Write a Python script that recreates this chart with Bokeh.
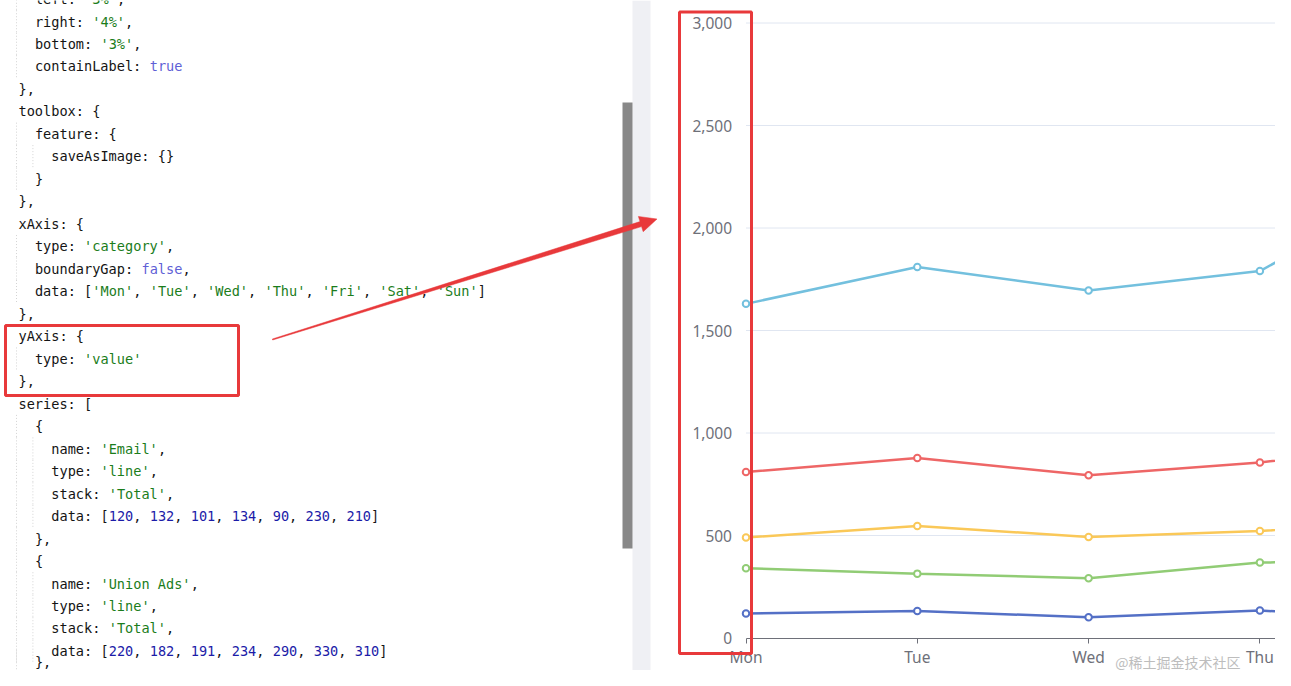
import re
import numpy as np
from bokeh.plotting import figure
from bokeh.models import Range1d, LinearAxis, FixedTicker, NumeralTickFormatter
from bokeh.core.properties import value
from bokeh.embed import file_html
from bokeh.resources import INLINE

# ---------------- data ----------------
days = ['Mon', 'Tue', 'Wed', 'Thu', 'Fri', 'Sat', 'Sun']
email = [120, 132, 101, 134, 90, 230, 210]
union_ads = [220, 182, 191, 234, 290, 330, 310]
video_ads = [150, 232, 201, 154, 190, 330, 410]
direct = [320, 332, 301, 334, 390, 330, 320]
search_engine = [820, 932, 901, 934, 1290, 1330, 1320]
series_names = ['Email', 'Union Ads', 'Video Ads', 'Direct', 'Search Engine']
series_colors = ['#5470c6', '#91cc75', '#fac858', '#ee6666', '#73c0de']
y_ticks = [0, 500, 1000, 1500, 2000, 2500, 3000]

code_lines = [
    "  left: '3%',",
    "  right: '4%',",
    "  bottom: '3%',",
    "  containLabel: true",
    "},",
    "toolbox: {",
    "  feature: {",
    "    saveAsImage: {}",
    "  }",
    "},",
    "xAxis: {",
    "  type: 'category',",
    "  boundaryGap: false,",
    "  data: ['Mon', 'Tue', 'Wed', 'Thu', 'Fri', 'Sat', 'Sun']",
    "},",
    "yAxis: {",
    "  type: 'value'",
    "},",
    "series: [",
    "  {",
    "    name: 'Email',",
    "    type: 'line',",
    "    stack: 'Total',",
    "    data: [120, 132, 101, 134, 90, 230, 210]",
    "  },",
    "  {",
    "    name: 'Union Ads',",
    "    type: 'line',",
    "    stack: 'Total',",
    "    data: [220, 182, 191, 234, 290, 330, 310]",
    "  },",
]
watermark = "@稀土掘金技术社区"

# ---------------- layout (reference pixel space, 1:1) ----------------
W, H = 1275, 670
X_MON, DX = 745.5, 171.3        # pixel of first category, pixels per category
Y_ZERO, KY = 637.5, 0.205       # pixel of value 0, pixels per unit
RED = "#e8393b"

p = figure(width=W, height=H,
           x_range=Range1d(0, W), y_range=Range1d(H, 0),
           x_axis_type=None, y_axis_type=None,
           toolbar_location=None, output_backend="svg",
           min_border=0, outline_line_color=None,
           background_fill_color="white", border_fill_color="white")
p.extra_x_ranges = {"days": Range1d((0 - X_MON) / DX, (W - X_MON) / DX)}
p.extra_y_ranges = {"vals": Range1d((Y_ZERO - H) / KY, Y_ZERO / KY)}

# editor chrome
p.quad(left=[632], right=[650], top=[0], bottom=[H], fill_color="#eff0f4", line_color=None)
p.quad(left=[622], right=[632], top=[102], bottom=[548], fill_color="#888888", line_color=None)

# code text
CH = 8.2
X_BASE = 18
ROWH = 22.48
ROW0 = 21 - ROWH
colors = {"plain": "#141414", "str": "#1b7d1b", "num": "#1c1ca8", "kw": "#5f5fd6"}
tx, ty, tt, tc = [], [], [], []
gx0, gy0, gy1 = [], [], []
n_rows = len(code_lines)
for i, line in enumerate(code_lines):
    yc = ROW0 + i * ROWH
    if i == n_rows - 1:
        yc = min(yc, H - 9)
    indent = len(line) - len(line.lstrip(" "))
    for g in range(0, indent, 2):
        gx0.append(16 + g * CH)
        gy0.append(yc - ROWH / 2)
        gy1.append(yc + ROWH / 2)
    pos = 0
    toks = []
    for m in re.finditer(r"'[^']*'|\b\d+\b|\btrue\b|\bfalse\b", line):
        if m.start() > pos:
            toks.append((pos, line[pos:m.start()], "plain"))
        g = m.group()
        kind = "str" if g.startswith("'") else ("num" if g[0].isdigit() else "kw")
        toks.append((m.start(), g, kind))
        pos = m.end()
    if pos < len(line):
        toks.append((pos, line[pos:], "plain"))
    for col, s, kind in toks:
        st = s.lstrip(" ")
        col += len(s) - len(st)
        st = st.rstrip(" ")
        if not st:
            continue
        tx.append(X_BASE + col * CH)
        ty.append(yc)
        tt.append(st)
        tc.append(colors[kind])

p.segment(x0=gx0, x1=gx0, y0=gy0, y1=gy1, line_color="#d4d4d4", line_width=1, line_dash="1 2")
p.text(x=tx, y=ty, text=tt, text_color=tc, text_font=value("DejaVu Sans Mono"),
       text_font_size="13.6px", text_baseline="middle", text_align="left")

# ---------------- chart ----------------
idx = list(range(len(days)))
grid_vals = y_ticks[1:]
p.segment(x0=[0] * len(grid_vals), x1=[len(days) - 1] * len(grid_vals), y0=grid_vals, y1=grid_vals,
          x_range_name="days", y_range_name="vals", line_color="#e0e6f1", line_width=1)

stacked = np.cumsum(np.array([email, union_ads, video_ads, direct, search_engine]), axis=0)
for k, name in enumerate(series_names):
    p.line(x=idx, y=stacked[k].tolist(), x_range_name="days", y_range_name="vals",
           line_color=series_colors[k], line_width=2.5)
    p.scatter(x=idx, y=stacked[k].tolist(), x_range_name="days", y_range_name="vals",
              size=6.5, fill_color="white", line_color=series_colors[k], line_width=2)

yax = LinearAxis(x_range_name="days", y_range_name="vals", fixed_location=0,
                 ticker=FixedTicker(ticks=y_ticks), formatter=NumeralTickFormatter(format="0,0"),
                 axis_line_color=None, major_tick_line_color=None, minor_tick_line_color=None,
                 major_label_standoff=8, major_label_text_color="#6e7079",
                 major_label_text_font="Noto Sans", major_label_text_font_size="15.5px")
p.add_layout(yax, "left")

xax = LinearAxis(x_range_name="days", y_range_name="vals", fixed_location=0,
                 ticker=FixedTicker(ticks=idx),
                 major_label_overrides={i: d for i, d in enumerate(days)},
                 bounds=(0, len(days) - 1),
                 axis_line_color="#6e7079", axis_line_width=1,
                 major_tick_line_color="#6e7079", major_tick_out=5, major_tick_in=0,
                 minor_tick_line_color=None, major_label_standoff=3,
                 major_label_text_color="#6e7079", major_label_text_font="Noto Sans",
                 major_label_text_font_size="15.5px")
p.add_layout(xax, "below")

# ---------------- annotations ----------------
p.quad(left=[5], right=[238], top=[325], bottom=[395], fill_color=None,
       line_color=RED, line_width=3, level="overlay")
p.quad(left=[679], right=[751], top=[11.5], bottom=[653], fill_color=None,
       line_color=RED, line_width=3, level="overlay")

T = np.array([272.0, 339.0])
P = np.array([656.5, 218.5])
u = (P - T) / np.linalg.norm(P - T)
n = np.array([-u[1], u[0]])
B = P - 17 * u
pts = [T - 0.5 * n, B - 2.6 * n, B - 8 * n, P, B + 8 * n, B + 2.6 * n, T + 0.5 * n]
p.patch(x=[q[0] for q in pts], y=[q[1] for q in pts], fill_color=RED, line_color=RED,
        line_width=0.5, level="overlay")

p.text(x=[1240], y=[661], text=[watermark], text_align="right", text_baseline="middle",
       text_font=value("Noto Sans CJK SC"), text_font_size="14px", text_color="#bdbdbd",
       level="overlay")

open("out.html", "w").write(file_html(p, INLINE))
